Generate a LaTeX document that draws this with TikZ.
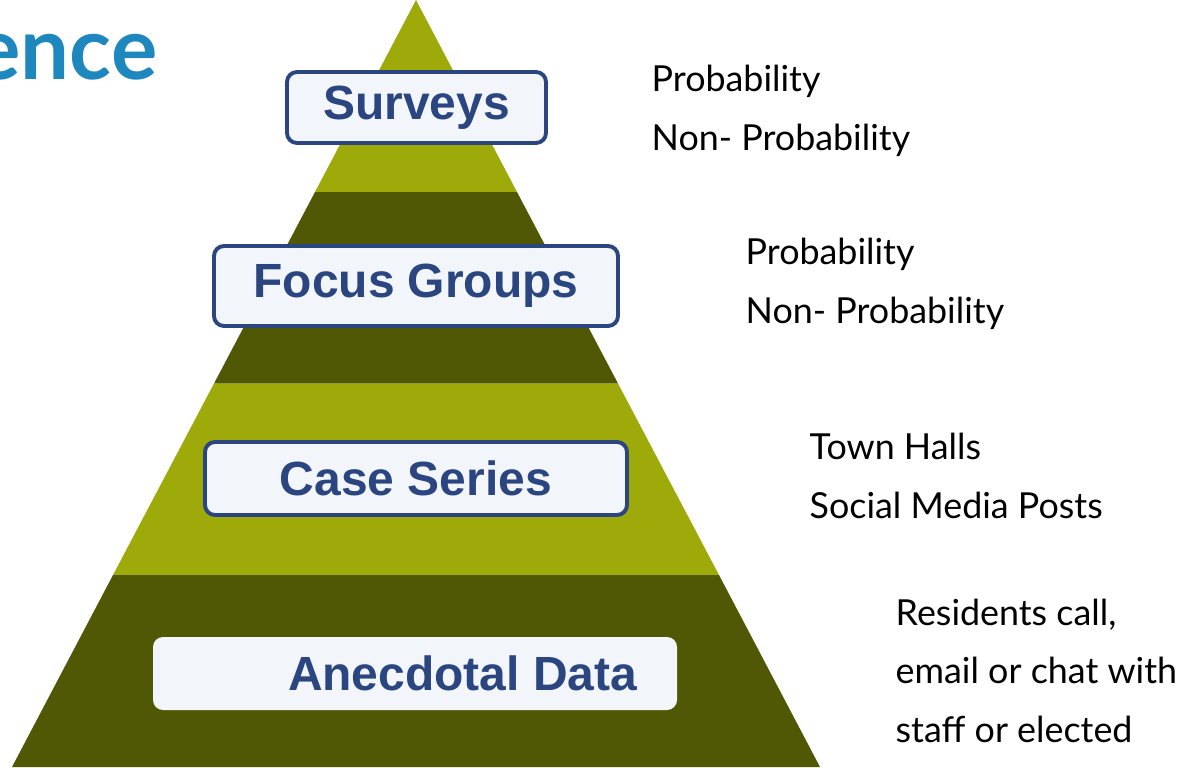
\documentclass[tikz,border=0pt]{standalone}
\usepackage{fontspec}
\setmainfont{Lato}
\newfontfamily\boxfont{Liberation Sans}
\usetikzlibrary{positioning}
\definecolor{lightolive}{RGB}{158,170,10}
\definecolor{darkolive}{RGB}{80,87,5}
\definecolor{boxblue}{RGB}{42,69,128}
\definecolor{boxfill}{RGB}{242,246,250}
\definecolor{titleblue}{RGB}{30,135,190}
\tikzset{
  levelbox/.style={draw=boxblue, line width=1.1pt, fill=boxfill, rounded corners=0.1cm,
    inner sep=0pt, text=boxblue, font=\boxfont\bfseries\fontsize{13.65}{16}\selectfont},
  note/.style={anchor=base west, align=left, inner sep=0pt,
    font=\fontsize{10.2}{16.64}\selectfont}
}
\begin{document}
\begin{tikzpicture}
    \useasboundingbox (0,0) rectangle (11.9,7.67);
    \clip (0,0) rectangle (11.9,7.67);
    % pyramid bands
    \fill[lightolive] (4.16,7.67)--(3.15,5.75)--(5.17,5.75)--cycle;
    \fill[darkolive] (3.15,5.75)--(5.17,5.75)--(6.18,3.835)--(2.14,3.835)--cycle;
    \fill[lightolive] (2.14,3.835)--(6.18,3.835)--(7.19,1.92)--(1.13,1.92)--cycle;
    \fill[darkolive] (1.13,1.92)--(7.19,1.92)--(8.20,0)--(0.12,0)--cycle;
    % title rest
    \node[anchor=base east, inner sep=0pt, text=titleblue, font=\fontsize{24.7}{30}\selectfont\bfseries] (title) at (1.58,6.88) {ence};
    % level boxes
    \node[levelbox, minimum width=2.59cm, minimum height=0.71cm] (surveys) at (4.165,6.595) {Surveys};
    \node[levelbox, minimum width=4.04cm, minimum height=0.80cm] (focus) at (4.16,4.81) {Focus Groups};
    \node[levelbox, minimum width=4.22cm, minimum height=0.73cm] (cases) at (4.16,2.885) {Case Series};
    \node[levelbox, draw=none, minimum width=5.24cm, minimum height=0.73cm] (anec) at (4.15,0.935) {};
    \node[inner sep=0pt, text=boxblue, font=\boxfont\bfseries\fontsize{13.65}{16}\selectfont, left=0.41 of anec.east] (anectext) {Anecdotal Data};
    % notes (anchored at last line)
    \node[note] (surveysnote) at (6.51,6.17) {Probability\\Non- Probability};
    \node[note] (focusnote) at (7.45,4.44) {Probability\\Non- Probability};
    \node[note] (casesnote) at (8.09,2.49) {Town Halls\\Social Media Posts};
    \node[note] (anecnote) at (8.95,0.25) {Residents call,\\email or chat with\\staff or elected};
\end{tikzpicture}
\end{document}
